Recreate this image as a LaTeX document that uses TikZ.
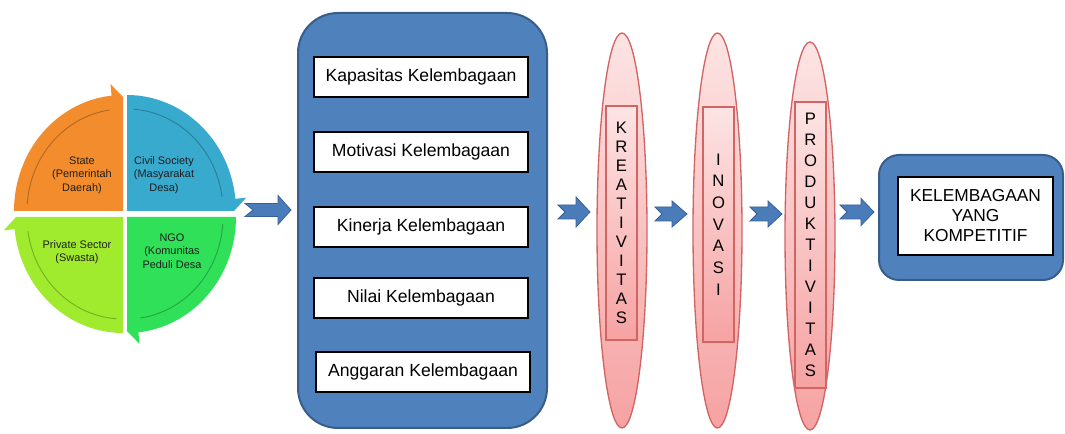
\documentclass[tikz,border=0pt]{standalone}
\usepackage{fontspec}
\setmainfont{Liberation Sans}
\usetikzlibrary{shapes.geometric}
\definecolor{qorange}{RGB}{242,140,45}
\definecolor{qblue}{RGB}{56,170,205}
\definecolor{qgreen}{RGB}{48,224,88}
\definecolor{qlime}{RGB}{160,235,45}
\definecolor{panelblue}{RGB}{79,129,189}
\definecolor{panelborder}{RGB}{56,93,138}
\definecolor{pinktop}{RGB}{253,228,228}
\definecolor{pinkbot}{RGB}{246,162,162}
\definecolor{pinkborder}{RGB}{210,100,100}
\definecolor{arrowblue}{RGB}{74,124,186}
\definecolor{arrowborder}{RGB}{56,96,150}
\definecolor{quadtext}{RGB}{30,30,30}
\tikzset{
  whitebox/.style={draw=black, line width=1.1pt, fill=white, minimum width=160.5pt, minimum height=30pt, inner sep=0pt, font=\fontsize{13.2}{15}\selectfont},
  bluepanel/.style={draw=panelborder, line width=1.5pt, fill=panelblue, rounded corners=30pt, inner sep=0pt},
  pinkell/.style={ellipse, draw=pinkborder, line width=1pt, top color=pinktop, bottom color=pinkbot, inner sep=0pt},
  pinkrect/.style={draw=pinkborder, line width=1pt, top color=pinktop, bottom color=pinkbot, inner sep=0pt, minimum width=23.25pt, align=center},
  blockarrow/.style={fill=arrowblue, draw=arrowborder, line width=0.6pt},
  quadlabel/.style={font=\fontsize{8.2}{10}\selectfont, align=center, text=quadtext, inner sep=0pt},
  rimline/.style={line width=0.7pt, opacity=0.25, draw=black}
}
\newcommand\blockarrow[7]{%
  \draw[blockarrow] ({#1},{#4-#5}) -- ({#3},{#4-#5}) -- ({#3},{#4-#6}) -- ({#2},{#4})
    -- ({#3},{#4+#6}) -- ({#3},{#4+#5}) -- ({#1},{#4+#5}) -- ({#1+#7},{#4}) -- cycle;}
\begin{document}
\begin{tikzpicture}[x=0.75pt, y=-0.75pt]
\useasboundingbox (0,0) rectangle (1065,434);

% ---- segmented cycle ----
\begin{scope}[shift={(123,211)}]
  \fill[qorange] (0,0) -- plot[domain=180:264, samples=40] ({109*cos(\x)},{116*sin(\x)})
    -- ({1.1*109*cos(264)},{1.1*116*sin(264)}) -- (0,-114) -- cycle;
  \draw[rimline] plot[domain=184:262, samples=30] ({96*cos(\x)},{102*sin(\x)});
\end{scope}
\begin{scope}[shift={(127,211)}]
  \fill[qblue] (0,0) -- plot[domain=270:354, samples=40] ({109*cos(\x)},{116*sin(\x)})
    -- ({1.1*109*cos(354)},{1.1*116*sin(354)}) -- (107,0) -- cycle;
  \draw[rimline] plot[domain=274:352, samples=30] ({96*cos(\x)},{102*sin(\x)});
\end{scope}
\begin{scope}[shift={(127,217)}]
  \fill[qgreen] (0,0) -- plot[domain=0:84, samples=40] ({109*cos(\x)},{116*sin(\x)})
    -- ({1.1*109*cos(84)},{1.1*116*sin(84)}) -- (0,114) -- cycle;
  \draw[rimline] plot[domain=4:82, samples=30] ({96*cos(\x)},{102*sin(\x)});
\end{scope}
\begin{scope}[shift={(123,217)}]
  \fill[qlime] (0,0) -- plot[domain=90:174, samples=40] ({109*cos(\x)},{116*sin(\x)})
    -- ({1.1*109*cos(174)},{1.1*116*sin(174)}) -- (-107,0) -- cycle;
  \draw[rimline] plot[domain=94:172, samples=30] ({96*cos(\x)},{102*sin(\x)});
\end{scope}
\node[quadlabel] (state) at (82,175) {State\\(Pemerintah\\Daerah)};
\node[quadlabel] (civil) at (164,175) {Civil Society\\(Masyarakat\\Desa)};
\node[quadlabel] (private) at (77,252) {Private Sector\\(Swasta)};
\node[quadlabel] (ngo) at (172,251) {NGO\\(Komunitas\\Peduli Desa};

% ---- left panel ----
\node[bluepanel, minimum width=186.75pt, minimum height=311.25pt] (panel) at (422.5,220.5) {};
\node[whitebox] (kap) at (421,77) {Kapasitas Kelembagaan};
\node[whitebox] (mot) at (421,152) {Motivasi Kelembagaan};
\node[whitebox] (kin) at (421,227) {Kinerja Kelembagaan};
\node[whitebox] (nil) at (421,298) {Nilai Kelembagaan};
\node[whitebox] (ang) at (423,372) {Anggaran Kelembagaan};

% ---- ellipses ----
\node[pinkell, minimum width=37.5pt, minimum height=296.25pt] (e1) at (622,230.5) {};
\node[pinkell, minimum width=36.75pt, minimum height=296.25pt] (e2) at (717.5,230.5) {};
\node[pinkell, minimum width=37.5pt, minimum height=291pt] (e3) at (810,236) {};
\node[pinkrect, minimum height=175.5pt, font=\fontsize{12.5}{14.25}\selectfont] (kre) at (621.5,223)
  {K\\R\\E\\A\\T\\I\\V\\I\\T\\A\\S};
\node[pinkrect, minimum height=176.25pt, font=\fontsize{12.5}{16.3}\selectfont] (ino) at (718.5,224.5)
  {I\\N\\O\\V\\A\\S\\I};
\node[pinkrect, minimum height=214.5pt, font=\fontsize{12.5}{15.75}\selectfont] (pro) at (810.5,245)
  {P\\R\\O\\D\\U\\K\\T\\I\\V\\I\\T\\A\\S};

% ---- result ----
\node[bluepanel, rounded corners=15pt, minimum width=138pt, minimum height=93.75pt] (res) at (971,217.5) {};
\node[draw=black, line width=1.1pt, fill=white, minimum width=116.25pt, minimum height=58.5pt, inner sep=0pt,
  align=center, font=\fontsize{13}{15}\selectfont] (komp) at (975.5,216) {KELEMBAGAAN\\YANG\\KOMPETITIF};

% ---- block arrows ----
\blockarrow{245}{291}{278}{210}{6.5}{14.5}{8}
\blockarrow{558}{590}{576}{212}{7}{15}{7}
\blockarrow{655}{687}{672}{214}{7}{13}{7}
\blockarrow{750}{782}{768}{214}{7}{13}{7}
\blockarrow{840}{874}{861}{212}{7}{13.5}{7}
\end{tikzpicture}
\end{document}
